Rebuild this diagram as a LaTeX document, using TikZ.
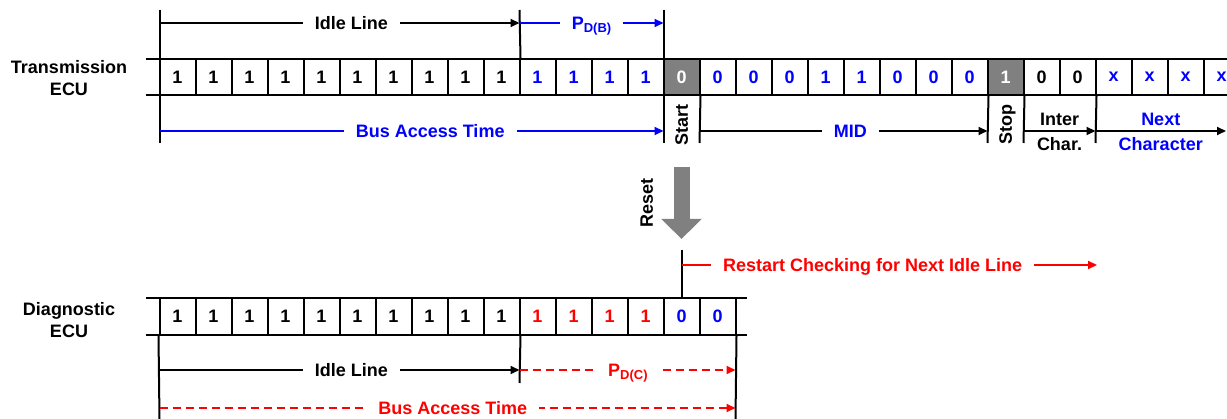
\documentclass[tikz,border=0pt]{standalone}
\usepackage{fontspec}
\setmainfont{Liberation Sans}
\usetikzlibrary{arrows.meta,positioning,calc}
\definecolor{bitgray}{RGB}{128,128,128}

\begin{document}
\begin{tikzpicture}[x=1pt,y=-1pt,>={Triangle[length=9pt,width=8pt]},font=\fontsize{18}{22}\selectfont\bfseries]
  \tikzstyle{cell}=[draw,line width=2pt,minimum width=36pt,minimum height=36pt,inner sep=0pt]
  \tikzstyle{dark}=[cell,fill=bitgray,text=white]
  \tikzstyle{rail}=[line width=2.4pt]
  \tikzstyle{vline}=[line width=2pt]
  \tikzstyle{span}=[->,line width=2pt]
  \tikzstyle{lbl}=[text height=12.9pt,text depth=0pt,inner sep=0pt]
  \tikzstyle{gap}=[lbl,fill=white,inner xsep=12pt]
  \useasboundingbox (0,0) rectangle (1227,419);
  \clip (0,0) rectangle (1227,419);

  % transmission ECU row
  \node[align=center] (tx) at (69,78) {Transmission\\ECU};
  \coordinate (tl) at (146,59);  \coordinate (tr) at (1227,59);
  \coordinate (bl) at (146,95);  \coordinate (br) at (1227,95);
  \draw[rail] (tl) -- (tr);
  \draw[rail] (bl) -- (br);
  \foreach \i in {1,...,10} \node[cell] (t\i) at ({141.5+36*\i},77) {1};
  \foreach \i in {11,...,14} \node[cell,text=blue] (t\i) at ({141.5+36*\i},77) {1};
  \node[dark] (t15) at ({141.5+36*15},77) {0};
  \foreach \i/\b in {16/0,17/0,18/0,19/1,20/1,21/0,22/0,23/0}
    \node[cell,text=blue] (t\i) at ({141.5+36*\i},77) {\b};
  \node[dark] (t24) at ({141.5+36*24},77) {1};
  \foreach \i in {25,26} \node[cell] (t\i) at ({141.5+36*\i},77) {0};
  \foreach \i in {27,...,30} \node[cell,text=blue] (t\i) at ({141.5+36*\i},77) {x};

  % markers
  \coordinate (s0) at (159.5,10);  \coordinate (s0e) at (159.5,143);
  \coordinate (s1) at (519.5,10);
  \coordinate (s2) at (663.5,10);  \coordinate (s2e) at (663.5,143);
  \coordinate (e1) at (699.5,143);
  \coordinate (e2) at (987.5,143);
  \coordinate (e3) at (1023.5,143);
  \coordinate (e4) at (1095.5,143);
  \draw[vline] (s0) -- (s0e);
  \draw[vline] (s1) -- (t10.north east);
  \draw[vline] (s2) -- (s2e);
  \draw[vline] (t15.south east) -- (e1);
  \draw[vline] (t23.south east) -- (e2);
  \draw[vline] (t24.south east) -- (e3);
  \draw[vline] (t26.south east) -- (e4);

  % spans above / below
  \coordinate (i0) at (159.5,23); \coordinate (i1) at (519.5,23); \coordinate (i2) at (663.5,23);
  \draw[span] (i0) -- node[gap,pos=.533] {Idle Line} (i1);
  \draw[span,blue] (i1) -- node[gap,pos=.5] {P\raisebox{-3pt}{\fontsize{13}{13}\selectfont D(B)}} (i2);
  \coordinate (a0) at (159.5,131); \coordinate (a1) at (663.5,131);
  \draw[span,blue] (a0) -- node[gap,pos=.537] {Bus Access Time} (a1);
  \node[lbl,rotate=90] (start) at (681.5,125) {Start};
  \coordinate (m0) at (699.5,131); \coordinate (m1) at (987.5,131);
  \draw[span] (m0) -- node[gap,pos=.524,text=blue] {MID} (m1);
  \node[lbl,rotate=90] (stop) at (1005.5,125) {Stop};
  \coordinate (c0) at (1023.5,131); \coordinate (c1) at (1095.5,131); \coordinate (c2) at (1226,131);
  \draw[span] (c0) -- node[lbl,above=4pt] {Inter} node[lbl,below=6pt] {Char.} (c1);
  \draw[span] (c1) -- node[lbl,above=4pt,text=blue] {Next} node[lbl,below=6pt,text=blue] {Character} (c2);

  % reset
  \coordinate (r0) at (681.5,167); \coordinate (r1) at (681.5,239);
  \draw[bitgray,line width=16pt,-{Triangle[length=20pt,width=39pt]}] (r0) -- (r1);
  \node[lbl,rotate=90] (reset) at (646.5,203) {Reset};

  % diagnostic ECU row
  \node[align=center] (dx) at (69,320) {Diagnostic\\ECU};
  \coordinate (dtl) at (146,298); \coordinate (dtr) at (747,298);
  \coordinate (dbl) at (146,335); \coordinate (dbr) at (747,335);
  \draw[rail] (dtl) -- (dtr);
  \draw[rail] (dbl) -- (dbr);
  \foreach \i in {1,...,10} \node[cell,minimum height=37pt] (b\i) at ({141.5+36*\i},316.5) {1};
  \foreach \i in {11,...,14} \node[cell,minimum height=37pt,text=red] (b\i) at ({141.5+36*\i},316.5) {1};
  \foreach \i in {15,16} \node[cell,minimum height=37pt,text=blue] (b\i) at ({141.5+36*\i},316.5) {0};

  % restart
  \coordinate (q0) at (681.5,250); \coordinate (q1) at (681.5,265); \coordinate (q2) at (1097,265);
  \draw[vline] (q0) -- (b15.north);
  \draw[span,red] (q1) -- node[gap,pos=.46] {Restart Checking for Next Idle Line} (q2);

  % spans below diagnostic row
  \coordinate (d0) at (159.5,419); \coordinate (d1) at (519.5,383); \coordinate (d2) at (735.5,419);
  \draw[vline] (b1.south west) -- (d0);
  \draw[vline] (b10.south east) -- (d1);
  \draw[vline] (b16.south east) -- (d2);
  \coordinate (j0) at (159.5,370); \coordinate (j1) at (519.5,370); \coordinate (j2) at (735.5,370);
  \draw[span] (j0) -- node[gap,pos=.533] {Idle Line} (j1);
  \draw[span,red,dash pattern=on 8pt off 5pt] (j1) -- node[gap,pos=.502] {P\raisebox{-3pt}{\fontsize{13}{13}\selectfont D(C)}} (j2);
  \coordinate (k0) at (159.5,408); \coordinate (k1) at (735.5,408);
  \draw[span,red,dash pattern=on 8pt off 5pt] (k0) -- node[gap,pos=.509] {Bus Access Time} (k1);
\end{tikzpicture}
\end{document}
